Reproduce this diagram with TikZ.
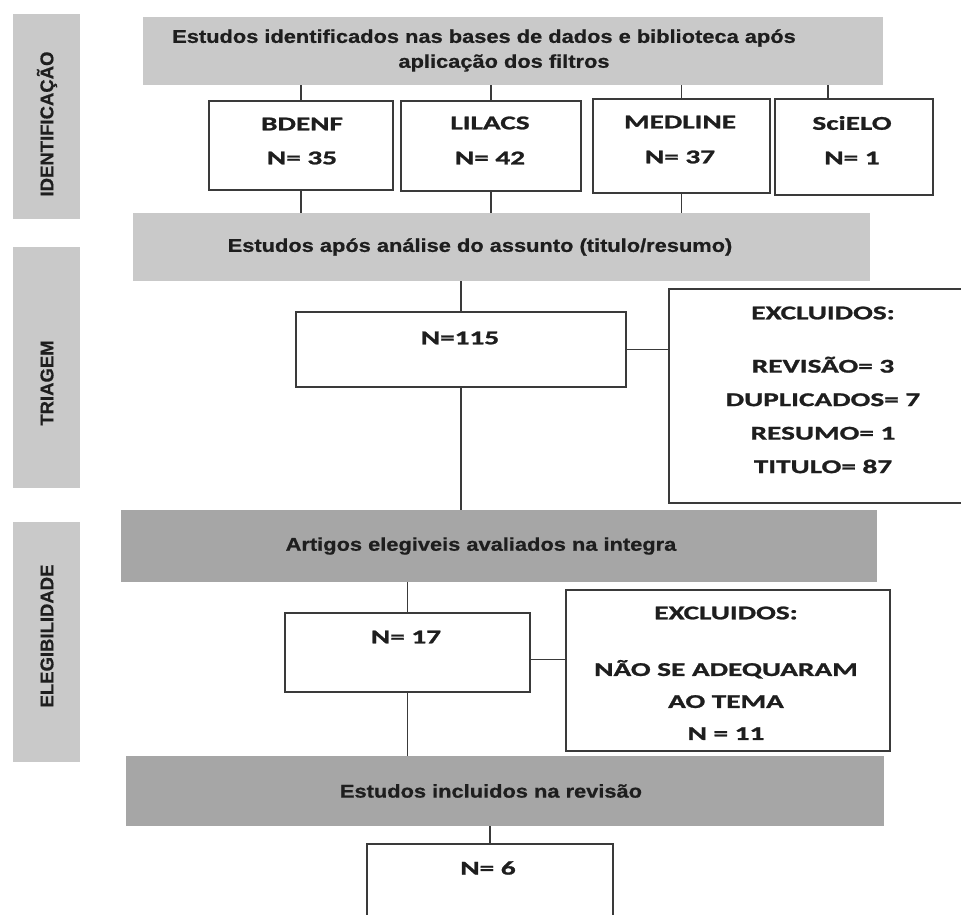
\documentclass[tikz,border=0pt]{standalone}
\usepackage{fontspec}
\usetikzlibrary{calc}
\newfontfamily\cfont[FakeStretch=1.5,BoldFeatures={FakeBold=1.2}]{Carlito}
\newfontfamily\afont[FakeStretch=1.18,BoldFeatures={FakeBold=0.8}]{Liberation Sans}
\newfontfamily\sidefont[BoldFeatures={FakeBold=0.6}]{Liberation Sans}
\definecolor{sidegray}{HTML}{C9C9C9}
\definecolor{lightbox}{HTML}{C9C9C9}
\definecolor{darkbox}{HTML}{A6A6A6}
\definecolor{linecol}{HTML}{3A3A3A}
\definecolor{txt}{HTML}{1E1E1E}
\begin{document}
\begin{tikzpicture}[x=1pt,y=-1pt,
  sidebar/.style={fill=sidegray, draw=none, anchor=north west, inner sep=0pt, outer sep=0pt, minimum width=67pt},
  sidelabel/.style={rotate=90, text=txt, font=\sidefont\bfseries\fontsize{18.5}{22}\selectfont, inner sep=0pt},
  lbox/.style={fill=lightbox, draw=none, anchor=north west, inner sep=0pt, outer sep=0pt},
  dbox/.style={fill=darkbox, draw=none, anchor=north west, inner sep=0pt, outer sep=0pt},
  graytext/.style={text=txt, font=\afont\bfseries\fontsize{18.5}{25}\selectfont, inner sep=0pt, align=center},
  wbox/.style={fill=white, draw=linecol, line width=1.5pt, anchor=north west, inner sep=0pt, outer sep=0pt},
  btext/.style={text=txt, font=\cfont\bfseries\fontsize{19.5}{33.5}\selectfont, inner sep=0pt, align=center},
  conn/.style={draw=linecol, line width=1.5pt}
]
\clip (0,0) rectangle (961,915);
\fill[white] (0,0) rectangle (961,915);

% side bars
\node[sidebar, minimum height=205pt] (sb1) at (13,14) {};
\node[sidebar, minimum height=241pt] (sb2) at (13,247) {};
\node[sidebar, minimum height=240pt] (sb3) at (13,522) {};
\node[sidelabel] (sl1) at (47,124) {IDENTIFICAÇÃO};
\node[sidelabel] (sl2) at (47,383) {TRIAGEM};
\node[sidelabel] (sl3) at (47,636) {ELEGIBILIDADE};

% gray boxes
\node[lbox, minimum width=740pt, minimum height=68pt] (g1) at (143,17) {};
\node[graytext] (g1a) at (484,38) {Estudos identificados nas bases de dados e biblioteca após};
\node[graytext] (g1b) at (504,63) {aplicação dos filtros};
\node[lbox, minimum width=737pt, minimum height=68pt] (g2) at (133,213) {};
\node[graytext] (g2t) at (480,247) {Estudos após análise do assunto (titulo/resumo)};
\node[dbox, minimum width=756pt, minimum height=72pt] (g3) at (121,510) {};
\node[graytext] (g3t) at (481,546) {Artigos elegiveis avaliados na integra};
\node[dbox, minimum width=758pt, minimum height=70pt] (g4) at (126,756) {};
\node[graytext] (g4t) at (491,791) {Estudos incluidos na revisão};

% source boxes
\node[wbox, minimum width=184pt, minimum height=89pt] (bd) at (209,101) {};
\node[btext] (bda) at (302,124) {BDENF};
\node[btext] (bdb) at (302,158) {N= 35};
\node[wbox, minimum width=180pt, minimum height=90pt] (li) at (401,101) {};
\node[btext] (lia) at (490,123) {LILACS};
\node[btext] (lib) at (490,158) {N= 42};
\node[wbox, minimum width=177pt, minimum height=94pt] (me) at (593,99) {};
\node[btext] (mea) at (680,122) {MEDLINE};
\node[btext] (meb) at (680,157) {N= 37};
\node[wbox, minimum width=158pt, minimum height=96pt] (sc) at (775,99) {};
\node[btext] (sca) at (852,123) {SciELO};
\node[btext] (scb) at (852,158) {N= 1};

% screening
\node[wbox, minimum width=330pt, minimum height=75pt] (n115) at (296,312) {};
\node[btext] (n115t) at (460,338) {N=115};
\node[wbox, minimum width=308pt, minimum height=214pt] (ex1) at (669,289) {};
\node[btext] (ex1h) at (823,313) {EXCLUIDOS:};
\node[btext] (ex1b) at (823,415) {REVISÃO= 3\\DUPLICADOS= 7\\RESUMO= 1\\TITULO= 87};

% eligibility
\node[wbox, minimum width=245pt, minimum height=79pt] (n17) at (285,613) {};
\node[btext] (n17t) at (406,637) {N= 17};
\node[wbox, minimum width=324pt, minimum height=161pt] (ex2) at (566,590) {};
\node[btext] (ex2h) at (726,613) {EXCLUIDOS:};
\node[btext, font=\cfont\bfseries\fontsize{19.5}{32}\selectfont] (ex2b) at (726,700) {NÃO SE ADEQUARAM\\AO TEMA\\N = 11};

% included
\node[wbox, minimum width=246pt, minimum height=100pt] (n6) at (367,844) {};
\node[btext] (n6t) at (488,868) {N= 6};

% connectors
\coordinate (scin) at (828,99);
\draw[conn] (bd.north) -- (bd.north |- g1.south);
\draw[conn] (li.north) -- (li.north |- g1.south);
\draw[conn] (me.north) -- (me.north |- g1.south);
\draw[conn] (scin) -- (scin |- g1.south);
\draw[conn] (bd.south) -- (bd.south |- g2.north);
\draw[conn] (li.south) -- (li.south |- g2.north);
\draw[conn] (me.south) -- (me.south |- g2.north);
\draw[conn] (g2.south -| n115.north) -- (n115.north);
\draw[conn] (n115.south) -- (n115.south |- g3.north);
\draw[conn] (n115.east) -- (n115.east -| ex1.west);
\draw[conn] (g3.south -| n17.north) -- (n17.north);
\draw[conn] (n17.south) -- (n17.south |- g4.north);
\coordinate (c17) at ($(n17.east)+(0,7)$);
\draw[conn] (c17) -- (c17 -| ex2.west);
\draw[conn] (g4.south -| n6.north) -- (n6.north);
\end{tikzpicture}
\end{document}
